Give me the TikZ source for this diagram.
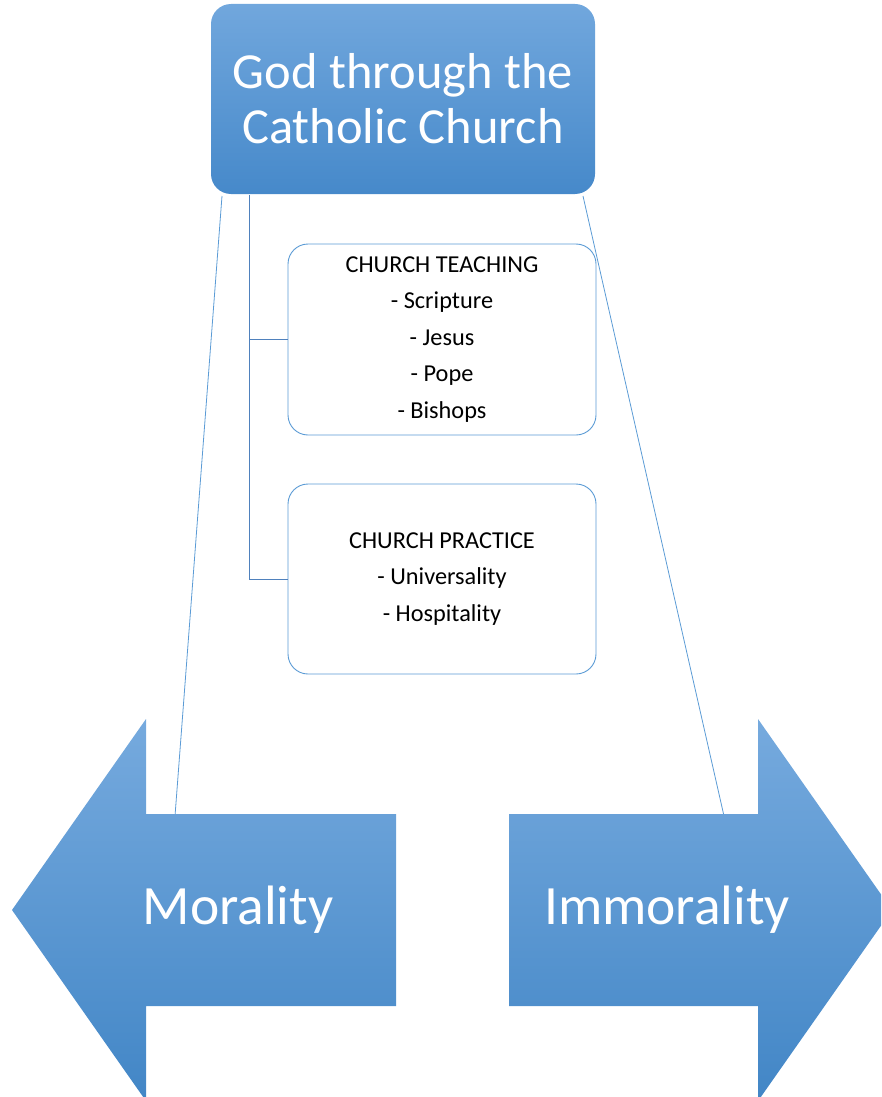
\documentclass[tikz,border=0pt]{standalone}
\usepackage{fontspec}
\setmainfont{Carlito}
\definecolor{topc}{HTML}{71A7DD}
\definecolor{botc}{HTML}{4689CA}
\definecolor{atop}{HTML}{76AADE}
\definecolor{abot}{HTML}{4286C6}
\definecolor{treec}{HTML}{4F81BD}
\definecolor{boxc}{HTML}{5B9BD5}
\begin{document}
\begin{tikzpicture}[x=1pt,y=-1pt,
  topbox/.style={rounded corners=20pt, top color=topc, bottom color=botc, draw=none, text=white, align=center,
    font=\fontsize{50.5}{55}\selectfont, minimum width=384pt, minimum height=190pt, inner sep=0pt},
  listbox/.style={rounded corners=20pt, draw=boxc, line width=0.9pt, fill=white, text=black, align=center,
    font=\fontsize{24.3}{36.5}\selectfont, minimum width=308pt, minimum height=191pt, inner sep=0pt},
  treeline/.style={draw=treec, line width=0.8pt},
  thinline/.style={draw=boxc, line width=0.8pt},
  arrowshape/.style={top color=atop, bottom color=abot, draw=none},
  bigtext/.style={text=white, font=\fontsize{55.5}{66}\selectfont, inner sep=0pt}]
\useasboundingbox (0,0) rectangle (881,1097);
\clip (0,0) rectangle (881,1097);
% thin connectors
\coordinate (la) at (222,196);
\coordinate (lb) at (175,816);
\coordinate (ra) at (583,196);
\coordinate (rb) at (724,816);
\draw[thinline] (la) -- (lb);
\draw[thinline] (ra) -- (rb);
% arrows
\path[arrowshape] (12,910) -- (146,719) -- (146,814) -- (396,814) -- (396,1006) -- (146,1006) -- (146,1101) -- cycle;
\path[arrowshape] (509,814) -- (758,814) -- (758,719) -- (892,910) -- (758,1101) -- (758,1006) -- (509,1006) -- cycle;
\node[bigtext] (mor) at (238,910) {Morality};
\node[bigtext] (immor) at (667,910) {Immorality};
% top box
\node[topbox] (god) at (403,99) {God through the\\Catholic Church};
% list boxes
\node[listbox] (teach) at (442,339.5) {CHURCH TEACHING\\- Scripture\\- Jesus\\- Pope\\- Bishops};
\node[listbox, minimum height=190pt] (prac) at (442,579) {CHURCH PRACTICE\\- Universality\\- Hospitality};
% tree
\coordinate (trunk) at (249,195);
\draw[treeline] (trunk) |- (teach.west);
\draw[treeline] (trunk) |- (prac.west);
\end{tikzpicture}
\end{document}
